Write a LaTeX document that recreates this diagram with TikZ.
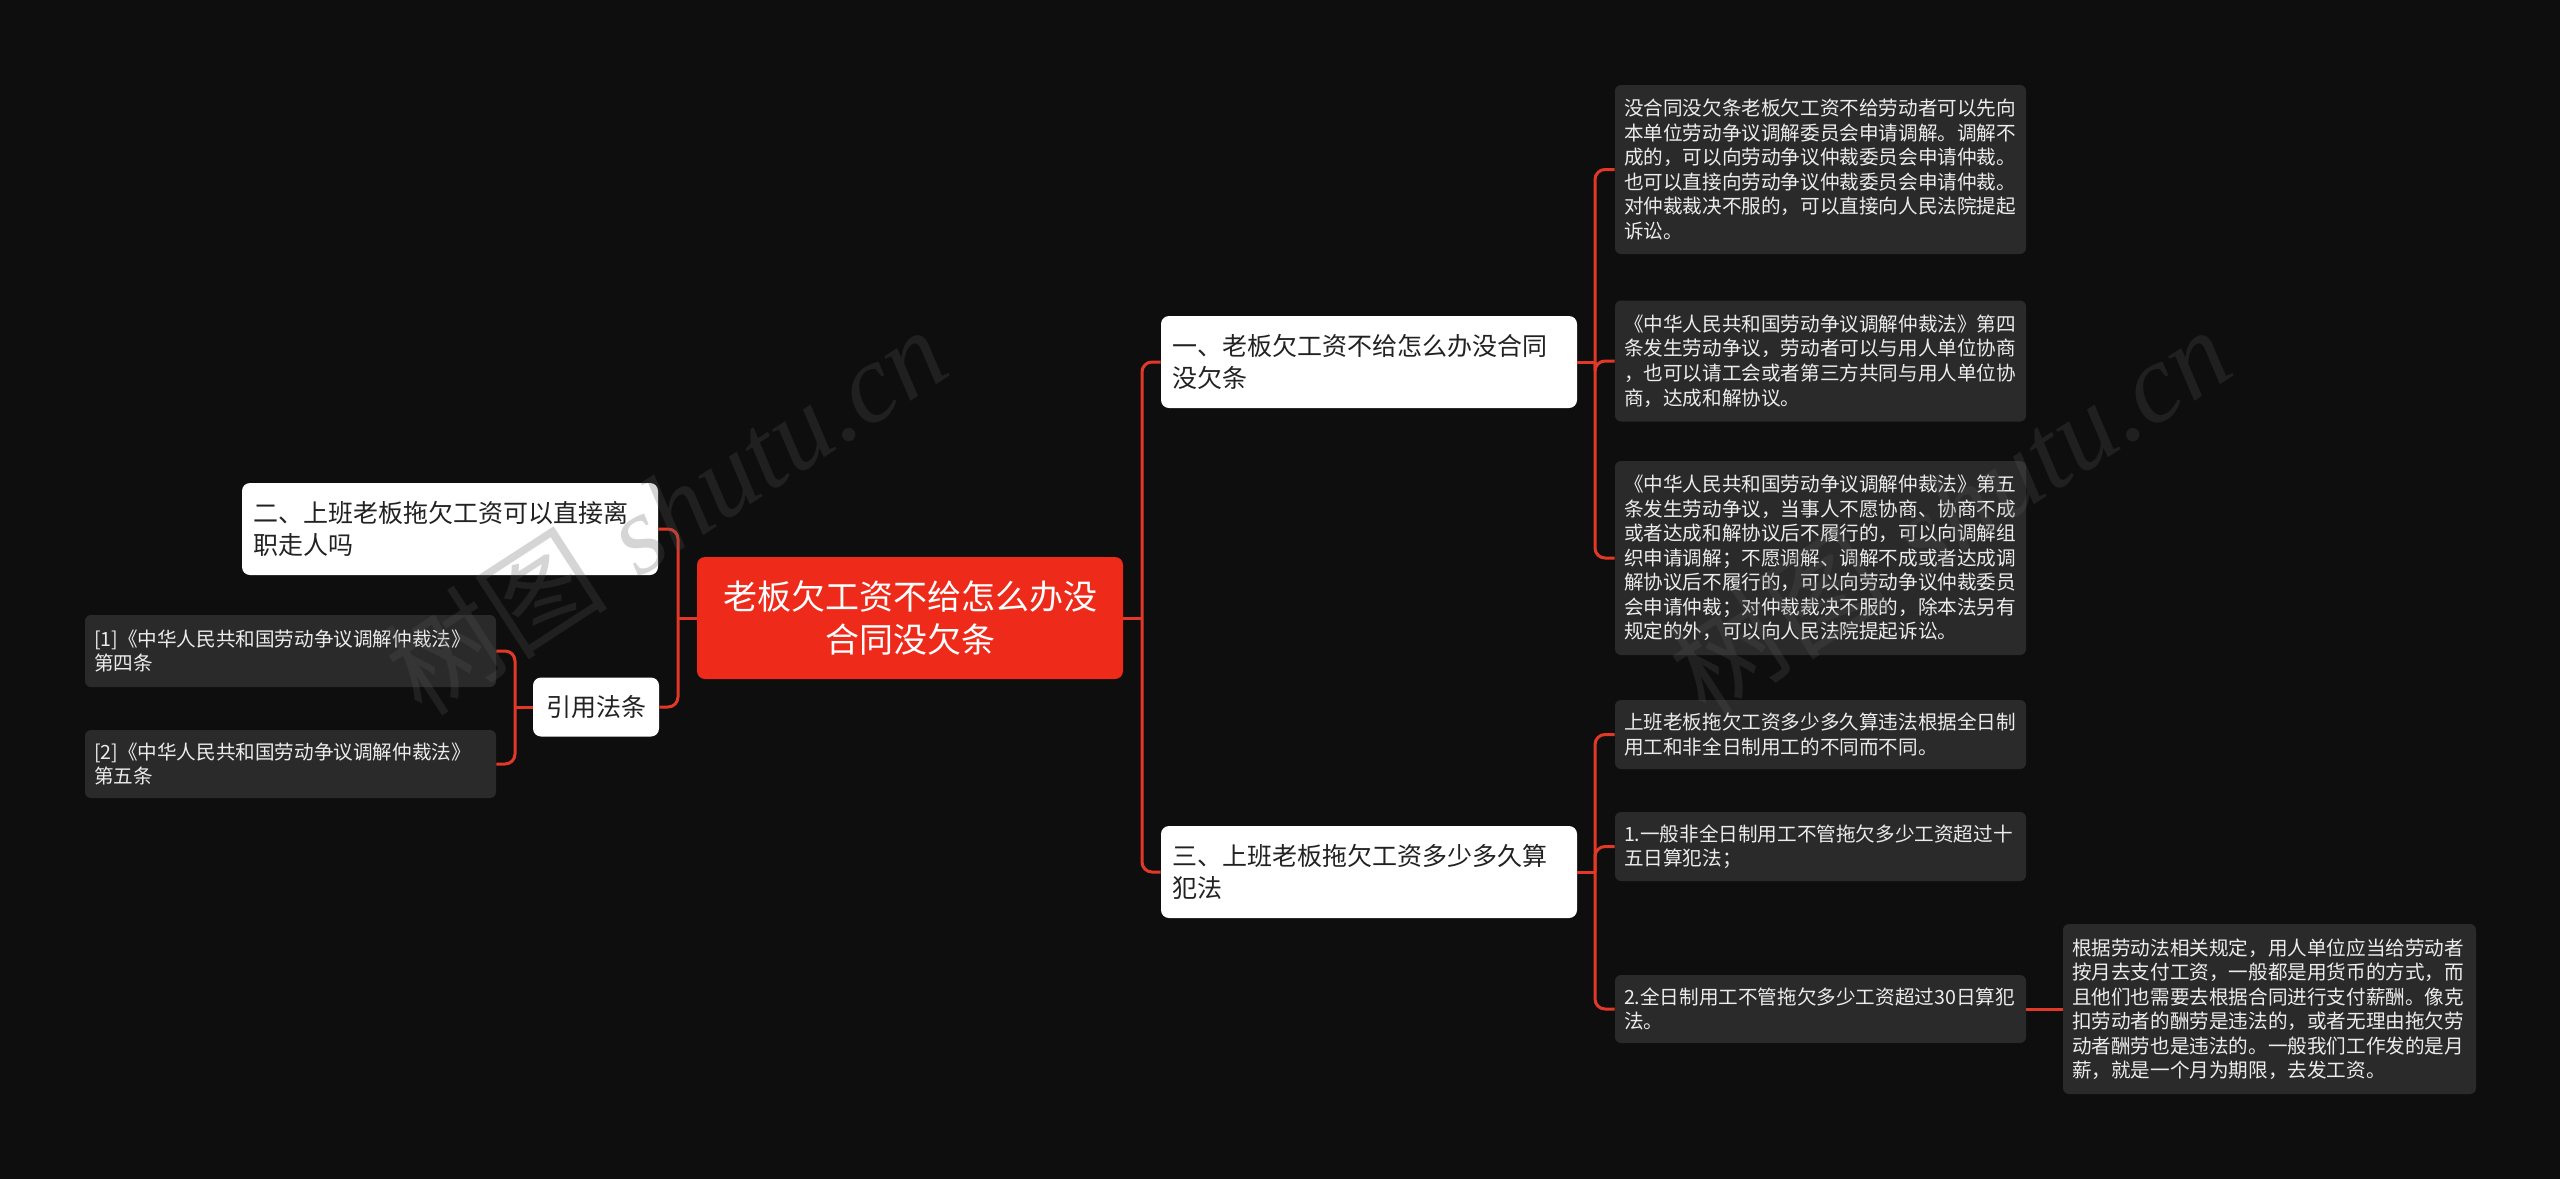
\documentclass[tikz,border=0pt]{standalone}
\usepackage{fontspec}
\newfontfamily\cjk{Noto Sans CJK SC}
\newfontfamily\wmserif{Liberation Serif}
\definecolor{bgc}{RGB}{14,14,14}
\definecolor{rootred}{RGB}{238,43,27}
\definecolor{linered}{RGB}{226,56,40}
\definecolor{leaffill}{RGB}{42,42,42}
\definecolor{leaftext}{RGB}{236,236,236}
\definecolor{branchtext}{RGB}{34,34,34}
\definecolor{wmgray}{RGB}{89,89,89}
\tikzset{
  rootbox/.style={fill=rootred, rounded corners=4pt, text=white,
    font=\cjk\fontsize{17pt}{21.5pt}\selectfont, align=center,
    minimum width=213pt, minimum height=61pt, inner sep=0pt},
  branchbox/.style={fill=white, rounded corners=4pt, text=branchtext,
    font=\cjk\fontsize{12.5pt}{16.3pt}\selectfont, align=left,
    text width=197pt, inner xsep=5.5pt, inner ysep=0pt, minimum height=46pt},
  citebox/.style={fill=white, rounded corners=4pt, text=branchtext,
    font=\cjk\fontsize{12.5pt}{16.3pt}\selectfont, align=center,
    minimum width=63pt, minimum height=29.5pt, inner sep=0pt},
  leafbox/.style={fill=leaffill, rounded corners=3pt, text=leaftext,
    font=\cjk\fontsize{9.8pt}{12.25pt}\selectfont, align=left,
    text width=196.5pt, inner xsep=4.5pt, inner ysep=0pt},
  conn/.style={draw=linered, line width=1.5pt, rounded corners=5pt},
  watermark/.style={text=wmgray, opacity=0.25, rotate=33, inner sep=0pt,
    font=\fontsize{56pt}{60pt}\selectfont}
}
\begin{document}
\begin{tikzpicture}[x=0.5pt,y=-0.5pt]
\useasboundingbox (0,0) rectangle (2560,1179);
\fill[bgc] (0,0) rectangle (2560,1179);

% central and branch nodes
\node[rootbox] (root) at (910,618) {老板欠工资不给怎么办没\\合同没欠条};
\node[branchbox] (b1) at (1369,362) {一、老板欠工资不给怎么办没合同\\没欠条};
\node[branchbox] (b3) at (1369,872) {三、上班老板拖欠工资多少多久算\\犯法};
\node[branchbox] (b2) at (450,529) {二、上班老板拖欠工资可以直接离\\职走人吗};
\node[citebox] (cite) at (596,707) {引用法条};

% left leaves
\node[leafbox, minimum height=36pt] (c1) at (290.5,651) {[1]《中华人民共和国劳动争议调解仲裁法》\\第四条};
\node[leafbox, minimum height=34pt] (c2) at (290.5,764) {[2]《中华人民共和国劳动争议调解仲裁法》\\第五条};

% right leaves
\node[leafbox, minimum height=84.5pt] (L1) at (1820.5,169.5) {没合同没欠条老板欠工资不给劳动者可以先向\\本单位劳动争议调解委员会申请调解。调解不\\成的，可以向劳动争议仲裁委员会申请仲裁。\\也可以直接向劳动争议仲裁委员会申请仲裁。\\对仲裁裁决不服的，可以直接向人民法院提起\\诉讼。};
\node[leafbox, minimum height=60.5pt] (L2) at (1820.5,361) {《中华人民共和国劳动争议调解仲裁法》第四\\条发生劳动争议，劳动者可以与用人单位协商\\，也可以请工会或者第三方共同与用人单位协\\商，达成和解协议。};
\node[leafbox, minimum height=97pt] (L3) at (1820.5,558) {《中华人民共和国劳动争议调解仲裁法》第五\\条发生劳动争议，当事人不愿协商、协商不成\\或者达成和解协议后不履行的，可以向调解组\\织申请调解；不愿调解、调解不成或者达成调\\解协议后不履行的，可以向劳动争议仲裁委员\\会申请仲裁；对仲裁裁决不服的，除本法另有\\规定的外，可以向人民法院提起诉讼。};
\node[leafbox, minimum height=34.5pt] (L4) at (1820.5,734.5) {上班老板拖欠工资多少多久算违法根据全日制\\用工和非全日制用工的不同而不同。};
\node[leafbox, minimum height=34.5pt] (L5) at (1820.5,846.5) {1.一般非全日制用工不管拖欠多少工资超过十\\五日算犯法；};
\node[leafbox, minimum height=34pt] (L6) at (1820.5,1009) {2.全日制用工不管拖欠多少工资超过30日算犯\\法。};
\node[leafbox, text width=197.5pt, minimum height=85pt] (L7) at (2269.5,1009) {根据劳动法相关规定，用人单位应当给劳动者\\按月去支付工资，一般都是用货币的方式，而\\且他们也需要去根据合同进行支付薪酬。像克\\扣劳动者的酬劳是违法的，或者无理由拖欠劳\\动者酬劳也是违法的。一般我们工作发的是月\\薪，就是一个月为期限，去发工资。};

% junctions
\coordinate (jR) at (1142,618);
\coordinate (j1) at (1595,362);
\coordinate (j3) at (1595,872);
\coordinate (jL) at (678,618);
\coordinate (jC) at (515,707);

% connectors right
\draw[conn] (root.east) -- (jR);
\draw[conn] (jR) |- (b1.west);
\draw[conn] (jR) |- (b3.west);
\draw[conn] (b1.east) -- (j1);
\draw[conn] (j1) |- (L1.west);
\draw[conn] (j1) |- (L2.west);
\draw[conn] (j1) |- (L3.west);
\draw[conn] (b3.east) -- (j3);
\draw[conn] (j3) |- (L4.west);
\draw[conn] (j3) |- (L5.west);
\draw[conn] (j3) |- (L6.west);
\draw[conn] (L6.east) -- (L7.west);

% connectors left
\draw[conn] (root.west) -- (jL);
\draw[conn] (jL) |- (b2.east);
\draw[conn] (jL) |- (cite.east);
\draw[conn] (cite.west) -- (jC);
\draw[conn] (jC) |- (c1.east);
\draw[conn] (jC) |- (c2.east);

% watermarks
\node[watermark] (wm1) at (665,510) {{\cjk 树图} {\wmserif\itshape shutu.cn}};
\node[watermark] (wm2) at (1949,510) {{\cjk 树图} {\wmserif\itshape shutu.cn}};
\end{tikzpicture}
\end{document}
